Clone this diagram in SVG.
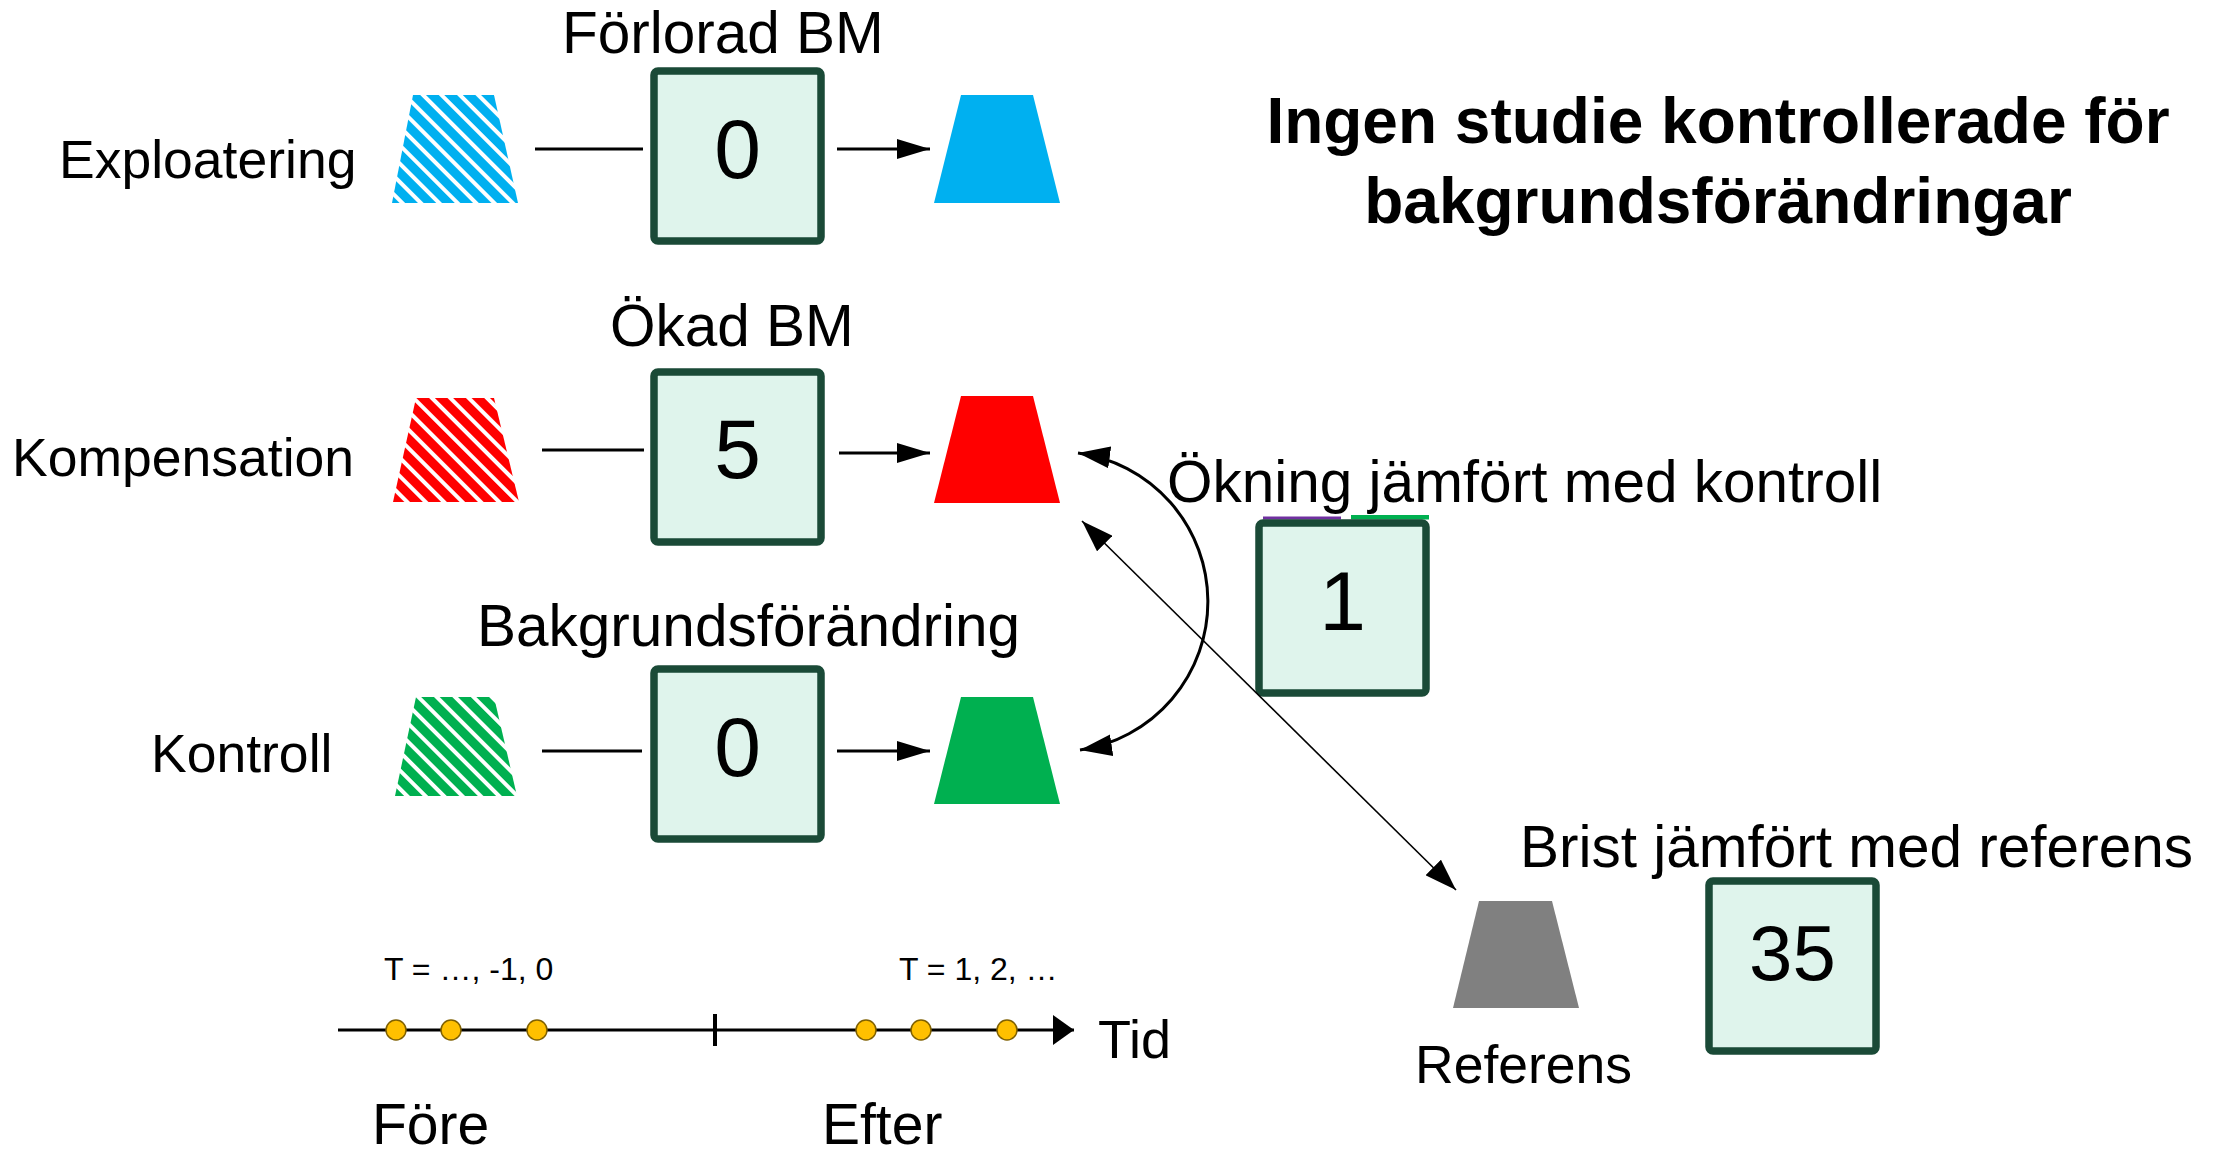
<svg xmlns="http://www.w3.org/2000/svg" width="2218" height="1156" viewBox="0 0 2218 1156">
<style>
text{font-family:"Liberation Sans",Arial,sans-serif;fill:#000}
.lbl{font-size:58.5px}
.side{font-size:53.5px}
.num{font-size:84px;text-anchor:middle}
.title{font-size:64px;font-weight:bold;text-anchor:middle}
.small{font-size:32px}
.box{fill:#DFF4EC;stroke:#1A4A37;stroke-width:7.5}
.ln{stroke:#000;stroke-width:3;fill:none}
.thin{stroke:#000;stroke-width:1.6;fill:none}
</style>
<defs>
<pattern id="pBlue" patternUnits="userSpaceOnUse" width="13" height="13" patternTransform="rotate(-45)"><rect width="13" height="13" fill="#fff"/><rect width="9" height="13" fill="#00B0F0"/></pattern>
<pattern id="pRed" patternUnits="userSpaceOnUse" width="13" height="13" patternTransform="rotate(-45)"><rect width="13" height="13" fill="#fff"/><rect width="9" height="13" fill="#FF0000"/></pattern>
<pattern id="pGreen" patternUnits="userSpaceOnUse" width="13" height="13" patternTransform="rotate(-45)"><rect width="13" height="13" fill="#fff"/><rect width="9" height="13" fill="#00B050"/></pattern>
<marker id="ah" markerUnits="userSpaceOnUse" markerWidth="33" markerHeight="20" refX="33" refY="10" orient="auto"><path d="M0,0 L33,10 L0,20 z" fill="#000"/></marker>
<marker id="ah2" markerUnits="userSpaceOnUse" markerWidth="32" markerHeight="22" refX="32" refY="11" orient="auto-start-reverse"><path d="M0,0 L32,11 L0,22 z" fill="#000"/></marker>
<marker id="ah3" markerUnits="userSpaceOnUse" markerWidth="21" markerHeight="30" refX="21" refY="15" orient="auto"><path d="M0,0 L21,15 L0,30 z" fill="#000"/></marker>
</defs>

<g id="title">
<text class="title" x="1718" y="143">Ingen studie kontrollerade för</text>
<text class="title" x="1718" y="223">bakgrundsförändringar</text>
</g>

<g id="row-exploatering">
<text class="side" x="59" y="178">Exploatering</text>
<polygon points="413,95 494,95 518,203 392,203" fill="url(#pBlue)"/>
<text class="lbl" x="562" y="53">Förlorad BM</text>
<rect class="box" x="654" y="71" width="167" height="170" rx="4"/>
<text class="num" x="737.5" y="178">0</text>
<polygon points="961,95 1033,95 1060,203 934,203" fill="#00B0F0"/>
</g>

<g id="row-kompensation">
<text class="side" x="12" y="476">Kompensation</text>
<polygon points="416,398 494,398 519,502 393,502" fill="url(#pRed)"/>
<text class="lbl" x="610" y="346">Ökad BM</text>
<rect class="box" x="654" y="372" width="167" height="170" rx="4"/>
<text class="num" x="737.5" y="478">5</text>
<polygon points="961,396 1033,396 1060,503 934,503" fill="#FF0000"/>
</g>

<g id="row-kontroll">
<text class="side" x="151" y="772">Kontroll</text>
<polygon points="416,697 494,697 517,796 395,796" fill="url(#pGreen)"/>
<text class="lbl" x="477" y="646">Bakgrundsförändring</text>
<rect class="box" x="654" y="669" width="167" height="170" rx="4"/>
<text class="num" x="737.5" y="776">0</text>
<polygon points="961,697 1033,697 1060,804 934,804" fill="#00B050"/>
</g>

<g id="okning">
<text class="lbl" x="1167" y="502">Ökning jämfört med kontroll</text>
<rect x="1263" y="516.5" width="78" height="3" fill="#7030A0"/>
<rect x="1351" y="515" width="78" height="4.5" fill="#00B050"/>
<rect class="box" x="1259" y="523" width="167" height="170" rx="4"/>
<text class="num" x="1342.5" y="630">1</text>
</g>

<g id="referens">
<polygon points="1479,901 1552,901 1579,1008 1453,1008" fill="#808080"/>
<text class="side" x="1415" y="1083">Referens</text>
</g>

<g id="brist">
<text class="lbl" x="1520" y="867">Brist jämfört med referens</text>
<rect class="box" x="1709" y="881" width="167" height="170" rx="4"/>
<text class="num" x="1792.5" y="980" style="font-size:78px">35</text>
</g>

<g id="connectors">
<line class="ln" x1="535" y1="149" x2="643" y2="149"/>
<line class="ln" x1="542" y1="450" x2="644" y2="450"/>
<line class="ln" x1="542" y1="751" x2="642" y2="751"/>
<line class="ln" x1="837" y1="149" x2="930" y2="149" marker-end="url(#ah)"/>
<line class="ln" x1="839" y1="453" x2="930" y2="453" marker-end="url(#ah)"/>
<line class="ln" x1="837" y1="751" x2="930" y2="751" marker-end="url(#ah)"/>
<path class="ln" d="M1078,453 A150,150 0 0 1 1080,750" marker-start="url(#ah2)" marker-end="url(#ah2)"/>
<line class="thin" x1="1082" y1="521" x2="1456" y2="890" marker-start="url(#ah2)" marker-end="url(#ah2)"/>
</g>

<g id="timeline">
<line class="ln" x1="338" y1="1030" x2="1074" y2="1030" marker-end="url(#ah3)"/>
<line x1="715" y1="1014" x2="715" y2="1046" stroke="#000" stroke-width="4"/>
<g fill="#FFC000" stroke="#7F6000" stroke-width="1.5">
<circle cx="396" cy="1030" r="10"/>
<circle cx="451" cy="1030" r="10"/>
<circle cx="537" cy="1030" r="10"/>
<circle cx="866" cy="1030" r="10"/>
<circle cx="921" cy="1030" r="10"/>
<circle cx="1007" cy="1030" r="10"/>
</g>
<text class="small" x="384" y="980">T = …, -1, 0</text>
<text class="small" x="899" y="980">T = 1, 2, …</text>
<text class="side" x="1098" y="1058" style="font-size:54px">Tid</text>
<text class="lbl" x="372" y="1144" style="font-size:57px">Före</text>
<text class="lbl" x="822" y="1144" style="font-size:57px">Efter</text>
</g>
</svg>
